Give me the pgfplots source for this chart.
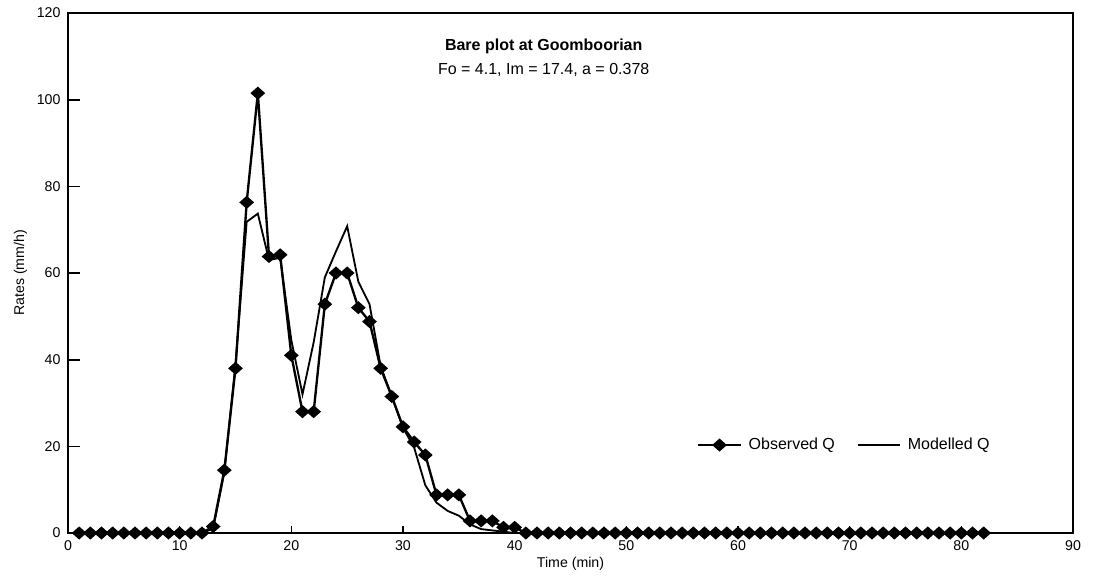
\documentclass[border=0pt]{standalone}
\usepackage{fontspec}
\setmainfont{Liberation Sans}
\usepackage{pgfplots}
\pgfplotsset{compat=1.18}

% observed and modelled runoff, Goomboorian bare plot
\pgfplotstableread{
t   obs    mod
1   0      0
2   0      0
3   0      0
4   0      0
5   0      0
6   0      0
7   0      0
8   0      0
9   0      0
10  0      0
11  0      0
12  0      0
13  1.5    1
14  14.5   14
15  38     39
16  76.3   71.8
17  101.5  73.7
18  63.8   63
19  64.2   63.5
20  41     44.5
21  28     32
22  28     44
23  52.8   59
24  60     65
25  60     70.8
26  52     58
27  48.8   52.8
28  38     38.5
29  31.5   31.5
30  24.5   24.3
31  21     19.7
32  18     11
33  8.8    7
34  8.8    5.1
35  8.8    4
36  2.8    2
37  2.8    0.9
38  2.8    0.6
39  1.3    0.3
40  1.3    0
41  0      0
42  0      0
43  0      0
44  0      0
45  0      0
46  0      0
47  0      0
48  0      0
49  0      0
50  0      0
51  0      0
52  0      0
53  0      0
54  0      0
55  0      0
56  0      0
57  0      0
58  0      0
59  0      0
60  0      0
61  0      0
62  0      0
63  0      0
64  0      0
65  0      0
66  0      0
67  0      0
68  0      0
69  0      0
70  0      0
71  0      0
72  0      0
73  0      0
74  0      0
75  0      0
76  0      0
77  0      0
78  0      0
79  0      0
80  0      0
81  0      0
82  0      0
}\runoff

\begin{document}
\begin{tikzpicture}
\begin{axis}[
    scale only axis,
    width=603pt, height=312pt,
    xmin=0, xmax=90, ymin=0, ymax=120,
    xtick={0,10,...,90}, ytick={0,20,...,120},
    font=\fontsize{8.5}{10}\selectfont,
    /pgf/number format/assume math mode=true,
    tick align=inside,
    xtick pos=bottom, ytick pos=left,
    axis line style={line width=1.6pt},
    xtick style={black, line width=0.8pt, /pgfplots/major tick length=4pt},
    ytick style={black, line width=1pt, /pgfplots/major tick length=7.5pt},
    xticklabel style={yshift=-1pt},
    yticklabel style={xshift=-1pt},
    xlabel={Time (min)},
    ylabel={Rates (mm/h)},
    xlabel style={yshift=3pt},
    ylabel style={yshift=-1pt},
    legend style={draw=none, fill=none, inner sep=0pt, at={(axis cs:56.3,20.3)}, anchor=west,
        legend columns=2, font=\fontsize{9.6}{11}\selectfont,
        /tikz/every even column/.append style={column sep=11pt}},
    legend image code/.code={\draw[mark repeat=2,mark phase=2,#1] plot coordinates {(0cm,0cm) (0.45cm,0cm) (0.9cm,0cm)};},
]
\addplot[black, line width=1.4pt, mark=diamond*, mark size=3pt,
    mark options={solid, xscale=1.5}] table[x=t, y=obs] {\runoff};
\addplot[black, line width=1.1pt] table[x=t, y=mod] {\runoff};
\legend{\hspace{2pt}Observed Q, \hspace{2pt}Modelled Q}
\node[font=\fontsize{9.6}{11}\selectfont\bfseries] at (axis cs:42.6,112.3) {Bare plot at Goomboorian};
\node[font=\fontsize{9.6}{11}\selectfont] at (axis cs:42.6,106.8) {Fo = 4.1, Im = 17.4, a = 0.378};
\end{axis}
\path ([xshift=-40.8pt,yshift=-31.8pt]current axis.south west) rectangle ([xshift=12pt,yshift=7.8pt]current axis.north east);
\end{tikzpicture}
\end{document}
